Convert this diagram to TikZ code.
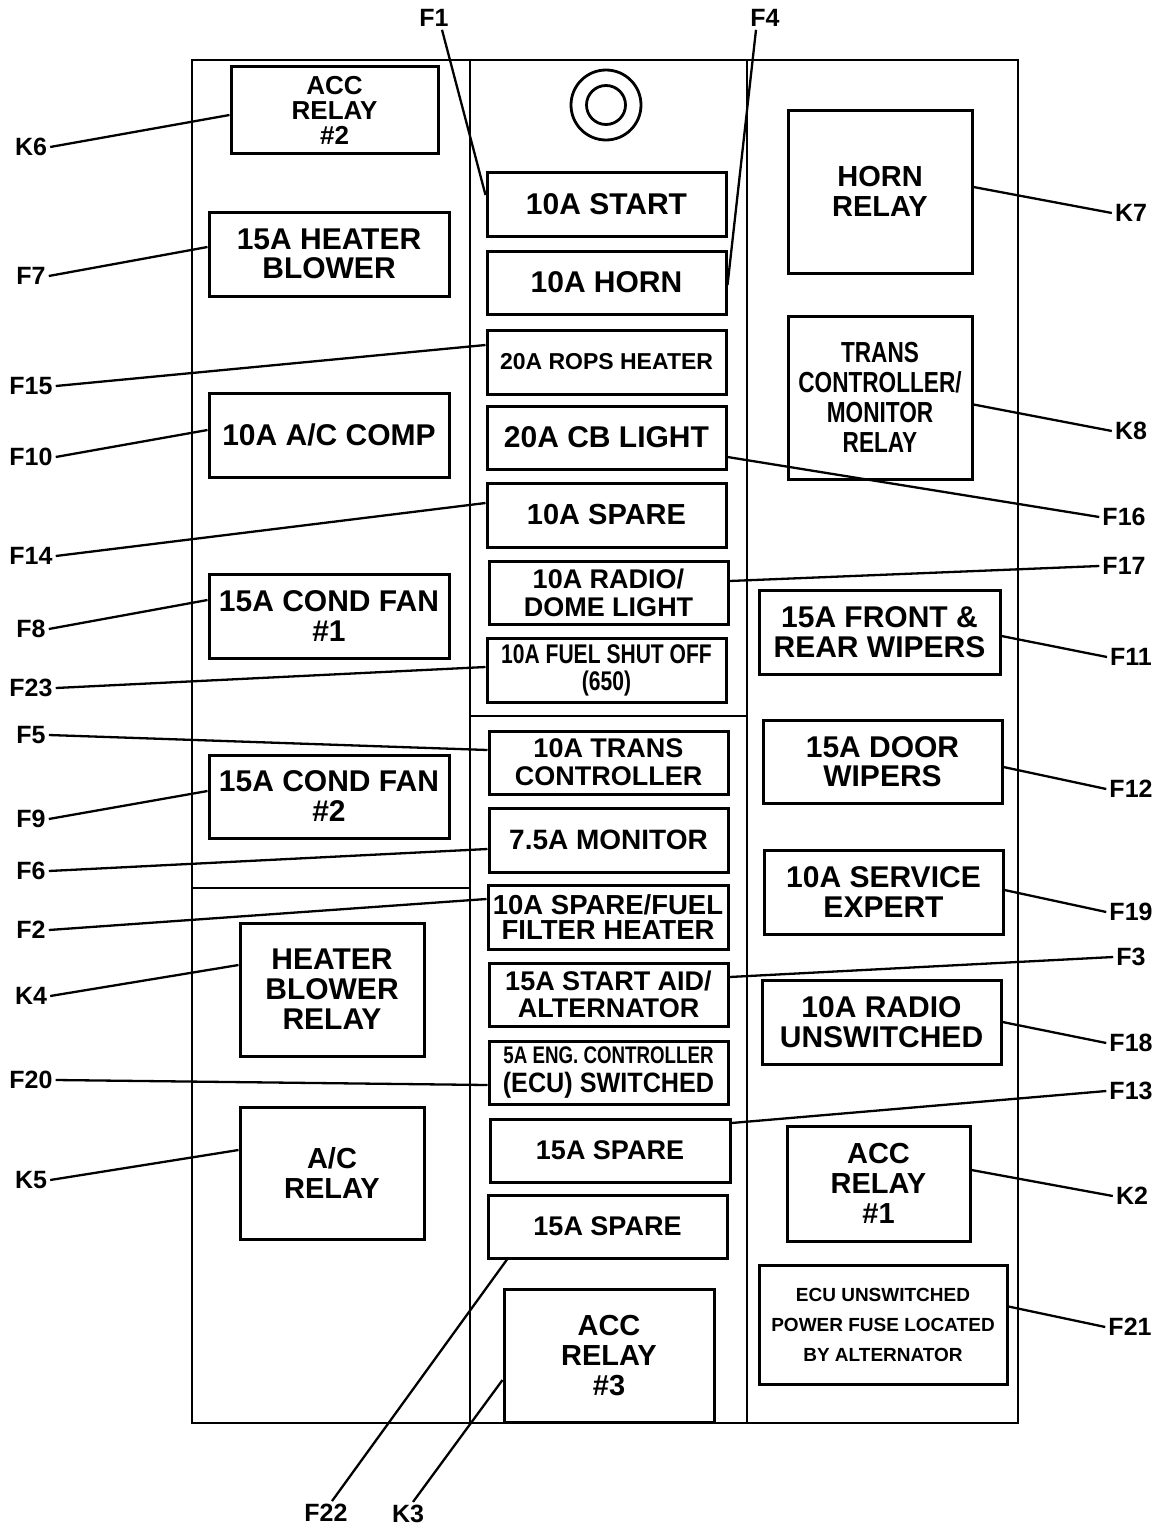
\documentclass[tikz,border=0pt]{standalone}
\usepackage{fontspec}
\setmainfont{Liberation Sans}
\newfontfamily\narrowfont[FakeStretch=0.78]{Liberation Sans}
\newfontfamily\semifont[FakeStretch=0.9]{Liberation Sans}
\newcommand{\fs}[2]{\fontsize{#1}{#2}\selectfont\bfseries}
\tikzset{
  fuse/.style={draw, line width=3pt, inner sep=0pt, align=center},
  tag/.style={inner sep=3pt, font=\fs{25}{25}},
  lead/.style={line width=2.3pt},
  frame/.style={line width=2.8pt},
}
\begin{document}
\begin{tikzpicture}[x=1pt,y=-1pt]
\useasboundingbox (0,0) rectangle (1157,1528);
% housing
\draw[frame] (192,60) rectangle (1018,1423);
\draw[frame] (470,60) -- (470,1423);
\draw[frame] (747,60) -- (747,1423);
\draw[frame] (192,888) -- (470,888);
\draw[frame] (470,716) -- (747,716);
\draw[frame] (606,105) circle (35);
\draw[frame] (606,105) circle (19.5);

% left column
\node[fuse, minimum width=207pt, minimum height=86pt, font=\fs{26}{25}] (acc2) at (334.5,110) {ACC\\RELAY\\\#2};
\node[fuse, minimum width=240pt, minimum height=84pt, font=\fs{30}{29}] (heater) at (329,254) {15A HEATER\\BLOWER};
\node[fuse, minimum width=240pt, minimum height=84pt, font=\fs{30}{30}] (accomp) at (329,435) {10A A/C COMP};
\node[fuse, minimum width=240pt, minimum height=84pt, font=\fs{30}{30}] (cond1) at (329,616) {15A COND FAN\\\#1};
\node[fuse, minimum width=240pt, minimum height=83pt, font=\fs{30}{30}] (cond2) at (329,796.5) {15A COND FAN\\\#2};
\node[fuse, minimum width=184pt, minimum height=133pt, font=\fs{30}{30}] (blowrelay) at (332,989.5) {HEATER\\BLOWER\\RELAY};
\node[fuse, minimum width=184pt, minimum height=132pt, font=\fs{29}{30}] (acrelay) at (332,1173) {A/C\\RELAY};

% middle column
\node[fuse, minimum width=239pt, minimum height=64pt, font=\fs{30}{30}] (start) at (606.5,204) {10A START};
\node[fuse, minimum width=239pt, minimum height=63pt, font=\fs{30}{30}] (horn) at (606.5,282.5) {10A HORN};
\node[fuse, minimum width=239pt, minimum height=64pt, font=\fs{23}{23}] (rops) at (606.5,362) {20A ROPS HEATER};
\node[fuse, minimum width=239pt, minimum height=63pt, font=\fs{30}{30}] (cb) at (606.5,437.5) {20A CB LIGHT};
\node[fuse, minimum width=239pt, minimum height=64pt, font=\fs{29}{29}] (spare1) at (606.5,515) {10A SPARE};
\node[fuse, minimum width=239pt, minimum height=63pt, font=\fs{27}{28}] (radio) at (608.5,592.5) {10A RADIO/\\DOME LIGHT};
\node[fuse, minimum width=239pt, minimum height=64pt, font=\narrowfont\fs{27}{27}] (fuelshut) at (606.5,670) {10A FUEL SHUT OFF\\(650)};
\node[fuse, minimum width=239pt, minimum height=63pt, font=\fs{27}{28}] (trans) at (608.5,762.5) {10A TRANS\\CONTROLLER};
\node[fuse, minimum width=239pt, minimum height=64pt, font=\fs{28}{28}] (monitor) at (608.5,840) {7.5A MONITOR};
\node[fuse, minimum width=240pt, minimum height=64pt, font=\fs{27.5}{25}] (sparefuel) at (608,917) {10A SPARE/FUEL\\FILTER HEATER};
\node[fuse, minimum width=239pt, minimum height=63pt, font=\fs{27}{27}] (startaid) at (608.5,994.5) {15A START AID/\\ALTERNATOR};
\node[fuse, minimum width=239pt, minimum height=63pt, font=\fs{24}{29}] (ecusw) at (608.5,1072.5) {{\narrowfont\fs{24}{29}5A ENG. CONTROLLER}\\{\semifont\fs{28}{29}(ECU) SWITCHED}};
\node[fuse, minimum width=240pt, minimum height=63pt, font=\fs{27}{27}] (spare2) at (610,1150.5) {15A SPARE};
\node[fuse, minimum width=239pt, minimum height=63pt, font=\fs{27}{27}] (spare3) at (607.5,1226.5) {15A SPARE};
\node[fuse, minimum width=210pt, minimum height=133pt, font=\fs{29}{30}] (acc3) at (609,1355.5) {ACC\\RELAY\\\#3};

% right column
\node[fuse, minimum width=184pt, minimum height=163pt, font=\fs{29}{30}] (hornrelay) at (880,191.5) {HORN\\RELAY};
\node[fuse, minimum width=184pt, minimum height=163pt, font=\narrowfont\fs{29}{30}] (transrelay) at (880,397.5) {TRANS\\CONTROLLER/\\MONITOR\\RELAY};
\node[fuse, minimum width=241pt, minimum height=84pt, font=\fs{30}{30}] (wipers) at (879.5,632) {15A FRONT \&\\REAR WIPERS};
\node[fuse, minimum width=239pt, minimum height=83pt, font=\fs{30}{29}] (doorwipers) at (882.5,761.5) {15A DOOR\\WIPERS};
\node[fuse, minimum width=239pt, minimum height=84pt, font=\fs{30}{30}] (service) at (883.5,892) {10A SERVICE\\EXPERT};
\node[fuse, minimum width=239pt, minimum height=84pt, font=\fs{30}{30}] (radiounsw) at (881.5,1022) {10A RADIO\\UNSWITCHED};
\node[fuse, minimum width=183pt, minimum height=115pt, font=\fs{29}{30}] (acc1) at (878.5,1183.5) {ACC\\RELAY\\\#1};
\node[fuse, minimum width=248pt, minimum height=119pt, font=\fs{19}{30}] (ecunote) at (883,1324.5) {ECU UNSWITCHED\\POWER FUSE LOCATED\\BY ALTERNATOR};

% callouts
\node[tag] (k6) at (31,147) {K6};
\node[tag] (f7) at (31,276) {F7};
\node[tag] (f15) at (31,386) {F15};
\node[tag] (f10) at (31,457) {F10};
\node[tag] (f14) at (31,556) {F14};
\node[tag] (f8) at (31,629) {F8};
\node[tag] (f23) at (31,688) {F23};
\node[tag] (f5) at (31,735) {F5};
\node[tag] (f9) at (31,819) {F9};
\node[tag] (f6) at (31,871) {F6};
\node[tag] (f2) at (31,930) {F2};
\node[tag] (k4) at (31,996) {K4};
\node[tag] (f20) at (31,1080) {F20};
\node[tag] (k5) at (31,1180) {K5};
\node[tag] (f1) at (434,18) {F1};
\node[tag] (f4) at (765,18) {F4};
\node[tag] (k7) at (1131,213) {K7};
\node[tag] (k8) at (1131,431) {K8};
\node[tag] (f16) at (1124,517) {F16};
\node[tag] (f17) at (1124,566) {F17};
\node[tag] (f11) at (1131,657) {F11};
\node[tag] (f12) at (1131,789) {F12};
\node[tag] (f19) at (1131,912) {F19};
\node[tag] (f3) at (1131,957) {F3};
\node[tag] (f18) at (1131,1043) {F18};
\node[tag] (f13) at (1131,1091) {F13};
\node[tag] (k2) at (1132,1196) {K2};
\node[tag] (f21) at (1130,1327) {F21};
\node[tag] (f22) at (326,1513) {F22};
\node[tag] (k3) at (408,1514) {K3};

\draw[lead] (k6.east) -- ([yshift=-5pt]acc2.west);
\draw[lead] (f7.east) -- ([yshift=7pt]heater.west);
\draw[lead] (f15.east) -- ([yshift=17pt]rops.west);
\draw[lead] (f10.east) -- ([yshift=5pt]accomp.west);
\draw[lead] (f14.east) -- ([yshift=12pt]spare1.west);
\draw[lead] (f8.east) -- ([yshift=16pt]cond1.west);
\draw[lead] (f23.east) -- ([yshift=3pt]fuelshut.west);
\draw[lead] (f5.east) -- ([yshift=12.5pt]trans.west);
\draw[lead] (f9.east) -- ([yshift=5.5pt]cond2.west);
\draw[lead] (f6.east) -- ([yshift=-9pt]monitor.west);
\draw[lead] (f2.east) -- ([yshift=18pt]sparefuel.west);
\draw[lead] (k4.east) -- ([yshift=24.5pt]blowrelay.west);
\draw[lead] (f20.east) -- ([yshift=-12.5pt]ecusw.west);
\draw[lead] (k5.east) -- ([yshift=23pt]acrelay.west);
\draw[lead] ([xshift=8pt]f1.south) -- ([yshift=9pt]start.west);
\draw[lead] ([xshift=-9pt]f4.south) -- ([yshift=-2.5pt]horn.east);
\draw[lead] (k7.west) -- ([yshift=4.5pt]hornrelay.east);
\draw[lead] (k8.west) -- ([yshift=-7pt]transrelay.east);
\draw[lead] (f16.west) -- ([yshift=-19.5pt]cb.east);
\draw[lead] (f17.west) -- ([yshift=11.5pt]radio.east);
\draw[lead] (f11.west) -- ([yshift=-4pt]wipers.east);
\draw[lead] (f12.west) -- ([yshift=-5.5pt]doorwipers.east);
\draw[lead] (f19.west) -- ([yshift=2pt]service.east);
\draw[lead] (f3.west) -- ([yshift=17.5pt]startaid.east);
\draw[lead] (f18.west) -- (radiounsw.east);
\draw[lead] (f13.west) -- ([yshift=27.5pt]spare2.east);
\draw[lead] (k2.west) -- ([yshift=13.5pt]acc1.east);
\draw[lead] (f21.west) -- ([yshift=18pt]ecunote.east);
\draw[lead] ([xshift=6pt]f22.north) -- ([xshift=-100.5pt]spare3.south);
\draw[lead] ([xshift=5pt]k3.north) -- ([yshift=-24.5pt]acc3.west);
\end{tikzpicture}
\end{document}
